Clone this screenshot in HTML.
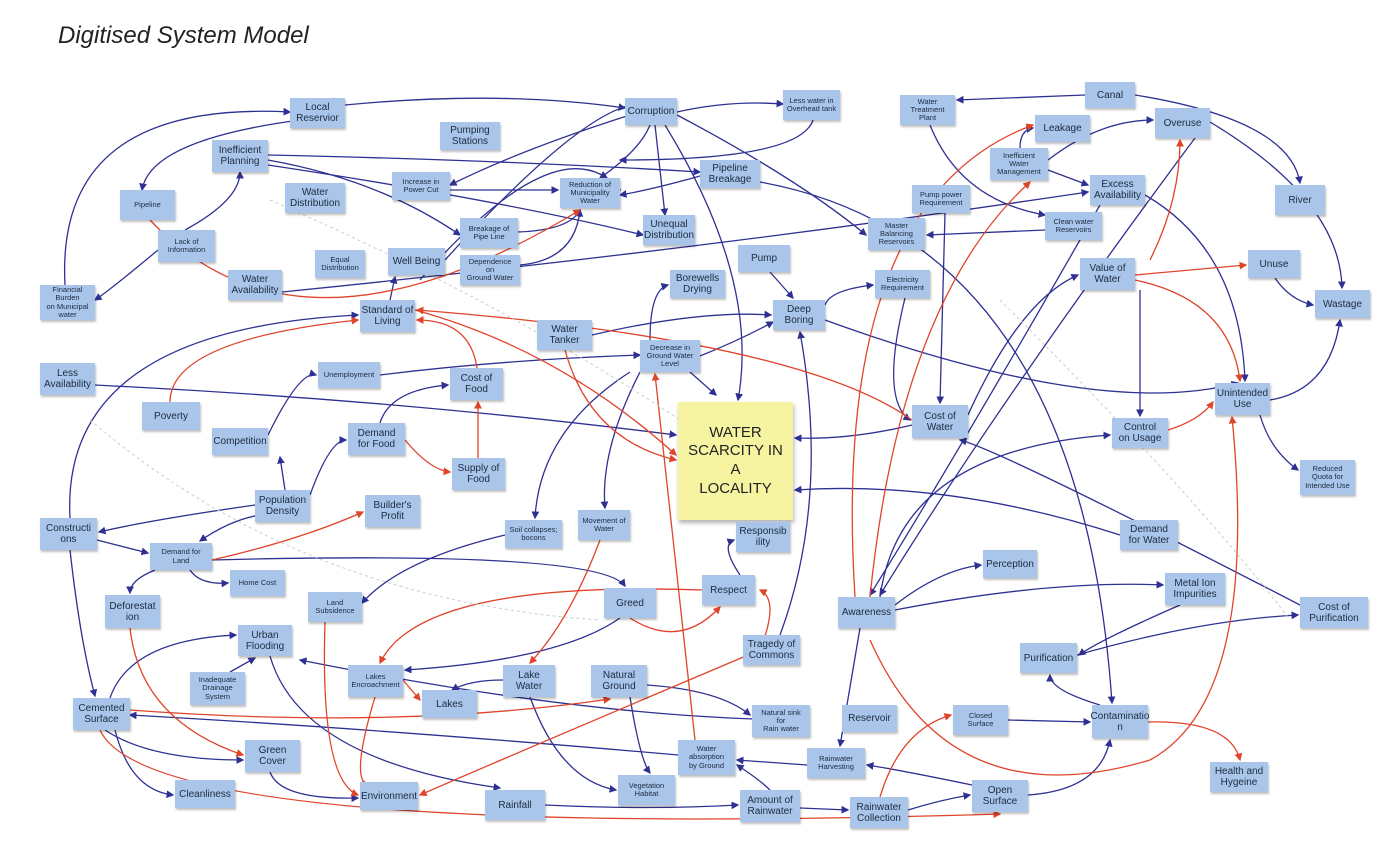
<!DOCTYPE html>
<html><head><meta charset="utf-8"><style>
body{margin:0;width:1400px;height:849px;background:#fff;position:relative;overflow:hidden;font-family:"Liberation Sans",sans-serif}
.n{position:absolute;background:#a9c6ea;display:flex;align-items:center;justify-content:center;text-align:center;font-size:10px;line-height:1.1;color:#1c2a40;box-shadow:1px 2px 2px rgba(0,0,0,.25);box-sizing:border-box;padding:1px}
.s{font-size:7.5px}
svg{position:absolute;left:0;top:0}
h1{position:absolute;left:58px;top:22px;margin:0;font-weight:normal;font-style:italic;font-size:24px;color:#222}
</style></head><body>
<h1>Digitised System Model</h1>
<svg width="1400" height="849" viewBox="0 0 1400 849">
<defs>
<marker id="b" markerWidth="6" markerHeight="6" refX="5" refY="3" orient="auto"><path d="M0,0 L6,3 L0,6z" fill="#2e3192"/></marker>
<marker id="r" markerWidth="6" markerHeight="6" refX="5" refY="3" orient="auto"><path d="M0,0 L6,3 L0,6z" fill="#e0442a"/></marker>
</defs>
<g fill="none" stroke="#2e3192" stroke-width="1.3" marker-end="url(#b)">
<path d="M650 125 Q640 150 600 178"/><path d="M655 125 Q660 170 665 215"/>
<path d="M630 115 Q520 150 450 185"/><path d="M665 125 Q760 280 738 400"/>
<path d="M677 112 Q730 100 783 104"/><path d="M813 120 Q800 160 620 160"/>
<path d="M300 120 Q150 140 142 190"/><path d="M345 105 Q500 90 625 108"/>
<path d="M268 155 Q500 160 700 172"/><path d="M268 160 Q380 180 460 235"/>
<path d="M268 165 Q500 200 643 235"/><path d="M185 230 Q240 200 240 172"/>
<path d="M158 250 Q110 290 95 300"/><path d="M65 285 Q55 100 290 112"/>
<path d="M700 176 Q650 190 620 195"/><path d="M450 190 L558 190"/>
<path d="M518 232 Q570 230 580 210"/><path d="M520 265 Q575 260 580 210"/>
<path d="M760 182 Q1080 240 1112 703"/><path d="M390 300 L395 277"/>
<path d="M282 292 Q700 250 1088 192"/><path d="M650 340 Q650 290 668 285"/>
<path d="M690 372 L716 395"/><path d="M592 335 Q700 310 771 315"/>
<path d="M700 356 Q740 340 773 322"/><path d="M825 305 Q830 290 873 285"/>
<path d="M770 272 L793 298"/><path d="M905 298 Q880 400 910 420"/>
<path d="M945 213 L940 403"/><path d="M968 415 Q1020 300 1078 275"/>
<path d="M1140 290 Q1140 350 1140 416"/><path d="M1145 195 Q1240 250 1245 381"/>
<path d="M1210 122 Q1340 200 1342 288"/><path d="M1085 95 L957 100"/>
<path d="M1135 95 Q1290 120 1300 183"/><path d="M1275 278 Q1290 300 1313 305"/>
<path d="M1270 400 Q1330 390 1340 320"/><path d="M1260 415 Q1270 450 1298 470"/>
<path d="M1048 170 L1088 185"/><path d="M1048 160 Q1100 120 1153 120"/>
<path d="M1020 148 Q1020 130 1033 128"/><path d="M1045 230 L927 235"/>
<path d="M930 125 Q960 200 1045 215"/><path d="M95 385 Q400 400 676 435"/>
<path d="M912 425 Q850 440 795 438"/><path d="M1120 535 Q950 480 795 490"/>
<path d="M1300 605 Q1000 450 960 440"/><path d="M895 605 Q940 570 981 565"/>
<path d="M895 610 Q1050 580 1163 585"/><path d="M860 628 L840 746"/>
<path d="M880 597 Q900 450 1110 435"/><path d="M1077 655 Q1200 620 1298 615"/>
<path d="M1180 605 Q1100 640 1079 655"/><path d="M1100 705 Q1050 690 1050 675"/>
<path d="M1008 720 L1090 722"/><path d="M1028 795 Q1100 790 1110 740"/>
<path d="M908 810 Q940 800 970 795"/><path d="M800 808 L848 810"/>
<path d="M545 805 Q650 810 738 805"/><path d="M770 790 Q760 780 737 765"/>
<path d="M807 765 L737 760"/><path d="M972 785 Q900 770 867 765"/>
<path d="M647 685 Q720 690 750 715"/><path d="M630 697 Q640 760 650 773"/>
<path d="M503 680 Q470 680 452 690"/><path d="M530 697 Q560 780 616 790"/>
<path d="M620 618 Q560 660 405 670"/><path d="M270 772 Q280 800 358 798"/>
<path d="M270 656 Q300 760 500 788"/><path d="M110 698 Q130 640 236 635"/>
<path d="M115 730 Q130 790 173 795"/><path d="M105 730 Q150 760 243 760"/>
<path d="M230 672 L255 658"/><path d="M70 550 Q80 640 95 696"/>
<path d="M97 540 L148 553"/><path d="M255 505 Q150 520 99 532"/>
<path d="M310 495 Q330 440 346 440"/><path d="M285 490 L280 457"/>
<path d="M260 515 Q230 520 200 541"/><path d="M155 570 Q130 580 130 593"/>
<path d="M190 570 Q200 585 228 583"/><path d="M212 560 Q600 550 625 586"/>
<path d="M268 435 Q300 370 316 375"/><path d="M380 423 Q390 390 448 385"/>
<path d="M505 535 Q400 560 362 603"/><path d="M630 372 Q540 430 535 518"/>
<path d="M640 372 Q600 450 605 508"/><path d="M740 575 Q720 545 734 540"/>
<path d="M780 635 Q830 500 800 332"/><path d="M70 518 Q60 330 358 315"/>
<path d="M677 115 Q800 180 866 235"/><path d="M1195 138 Q1000 400 880 595"/>
<path d="M1100 205 Q960 450 870 595"/><path d="M825 320 Q1100 420 1238 383"/>
<path d="M380 375 Q500 360 640 355"/><path d="M735 760 Q400 730 130 715"/>
<path d="M810 720 Q600 720 300 660"/><path d="M420 280 Q560 120 620 190"/>
<path d="M445 260 Q600 90 650 105"/>
</g>
<g fill="none" stroke="#e0442a" stroke-width="1.3" marker-end="url(#r)">
<path d="M170 402 Q170 340 358 320"/><path d="M477 368 Q470 320 417 320"/>
<path d="M405 440 Q430 470 450 472"/><path d="M478 458 L478 402"/>
<path d="M415 310 Q560 350 676 455"/><path d="M150 220 Q300 380 580 210"/>
<path d="M565 350 Q590 440 676 460"/><path d="M212 560 Q300 540 363 512"/>
<path d="M630 618 Q680 650 720 607"/><path d="M760 650 Q500 760 420 795"/>
<path d="M130 710 Q400 730 610 699"/><path d="M100 730 Q150 840 1000 814"/>
<path d="M130 628 Q140 720 243 755"/><path d="M325 622 Q320 780 358 795"/>
<path d="M403 680 L420 700"/><path d="M375 697 Q350 780 368 785"/>
<path d="M702 590 Q420 580 380 663"/><path d="M600 540 Q570 620 530 663"/>
<path d="M695 740 L655 374"/><path d="M855 597 Q830 200 1033 125"/>
<path d="M870 597 Q900 300 1030 182"/><path d="M870 640 Q950 820 1150 760 Q1260 700 1232 417"/>
<path d="M1150 260 Q1180 200 1180 140"/><path d="M1135 275 L1246 265"/>
<path d="M1135 280 Q1230 300 1240 381"/><path d="M1168 430 Q1200 420 1213 402"/>
<path d="M880 797 Q900 730 951 715"/><path d="M1148 722 Q1230 720 1240 760"/>
<path d="M912 420 Q800 340 417 310"/><path d="M760 650 Q780 600 760 590"/>
</g>
<g fill="none" stroke="#ccc" stroke-width="1" stroke-dasharray="3 3">
<path d="M270 200 Q500 300 680 420"/><path d="M90 420 Q300 600 600 620"/><path d="M1000 300 Q1200 500 1290 620"/>
</g>
</svg>
<div class="n" style="left:290px;top:98px;width:55px;height:30px">Local<br>Reservior</div>
<div class="n" style="left:625px;top:98px;width:52px;height:27px">Corruption</div>
<div class="n s" style="left:783px;top:90px;width:57px;height:30px">Less water in<br>Overhead tank</div>
<div class="n" style="left:1085px;top:82px;width:50px;height:26px">Canal</div>
<div class="n s" style="left:900px;top:95px;width:55px;height:30px">Water<br>Treatment<br>Plant</div>
<div class="n" style="left:1035px;top:115px;width:55px;height:27px">Leakage</div>
<div class="n" style="left:1155px;top:108px;width:55px;height:30px">Overuse</div>
<div class="n" style="left:440px;top:122px;width:60px;height:28px">Pumping<br>Stations</div>
<div class="n" style="left:212px;top:140px;width:56px;height:32px">Inefficient<br>Planning</div>
<div class="n" style="left:700px;top:160px;width:60px;height:28px">Pipeline<br>Breakage</div>
<div class="n s" style="left:392px;top:172px;width:58px;height:28px">Increase in<br>Power Cut</div>
<div class="n s" style="left:560px;top:178px;width:60px;height:30px">Reduction of<br>Municipality<br>Water</div>
<div class="n s" style="left:990px;top:148px;width:58px;height:32px">Inefficient<br>Water<br>Management</div>
<div class="n" style="left:1090px;top:175px;width:55px;height:30px">Excess<br>Availability</div>
<div class="n s" style="left:120px;top:190px;width:55px;height:30px">Pipeline</div>
<div class="n" style="left:285px;top:183px;width:60px;height:30px">Water<br>Distribution</div>
<div class="n s" style="left:912px;top:185px;width:58px;height:28px">Pump power<br>Requirement</div>
<div class="n" style="left:1275px;top:185px;width:50px;height:30px">River</div>
<div class="n s" style="left:158px;top:230px;width:57px;height:32px">Lack of<br>Information</div>
<div class="n s" style="left:460px;top:218px;width:58px;height:30px">Breakage of<br>Pipe Line</div>
<div class="n" style="left:643px;top:215px;width:52px;height:30px">Unequal<br>Distribution</div>
<div class="n s" style="left:1045px;top:212px;width:57px;height:28px">Clean water<br>Reservoirs</div>
<div class="n s" style="left:868px;top:218px;width:57px;height:32px">Master<br>Balancing<br>Reservoirs</div>
<div class="n s" style="left:315px;top:250px;width:50px;height:28px">Equal<br>Distribution</div>
<div class="n" style="left:388px;top:248px;width:57px;height:27px">Well Being</div>
<div class="n s" style="left:460px;top:255px;width:60px;height:30px">Dependence<br>on<br>Ground Water</div>
<div class="n" style="left:738px;top:245px;width:52px;height:27px">Pump</div>
<div class="n" style="left:670px;top:270px;width:55px;height:28px">Borewells<br>Drying</div>
<div class="n s" style="left:875px;top:270px;width:55px;height:28px">Electricity<br>Requirement</div>
<div class="n" style="left:1080px;top:258px;width:55px;height:32px">Value of<br>Water</div>
<div class="n" style="left:1248px;top:250px;width:52px;height:28px">Unuse</div>
<div class="n s" style="left:40px;top:285px;width:55px;height:35px">Financial Burden<br>on Municipal<br>water</div>
<div class="n" style="left:228px;top:270px;width:54px;height:30px">Water<br>Availability</div>
<div class="n" style="left:360px;top:300px;width:55px;height:32px">Standard of<br>Living</div>
<div class="n" style="left:773px;top:300px;width:52px;height:30px">Deep<br>Boring</div>
<div class="n" style="left:1315px;top:290px;width:55px;height:28px">Wastage</div>
<div class="n" style="left:537px;top:320px;width:55px;height:30px">Water<br>Tanker</div>
<div class="n s" style="left:640px;top:340px;width:60px;height:32px">Decrease in<br>Ground Water<br>Level</div>
<div class="n" style="left:40px;top:363px;width:55px;height:32px">Less<br>Availability</div>
<div class="n s" style="left:318px;top:362px;width:62px;height:26px">Unemployment</div>
<div class="n" style="left:450px;top:368px;width:53px;height:32px">Cost of<br>Food</div>
<div class="n" style="left:142px;top:402px;width:58px;height:28px">Poverty</div>
<div class="n" style="left:678px;top:402px;width:115px;height:118px;background:#f6f4a0;font-size:15px;line-height:1.25;color:#222;box-shadow:1px 3px 4px rgba(0,0,0,.3)">WATER<br>SCARCITY IN<br>A<br>LOCALITY</div>
<div class="n" style="left:912px;top:405px;width:56px;height:33px">Cost of<br>Water</div>
<div class="n" style="left:1215px;top:383px;width:55px;height:32px">Unintended<br>Use</div>
<div class="n" style="left:1112px;top:418px;width:56px;height:30px">Control<br>on Usage</div>
<div class="n" style="left:212px;top:428px;width:56px;height:27px">Competition</div>
<div class="n" style="left:348px;top:423px;width:57px;height:32px">Demand<br>for Food</div>
<div class="n" style="left:452px;top:458px;width:53px;height:32px">Supply of<br>Food</div>
<div class="n s" style="left:1300px;top:460px;width:55px;height:35px">Reduced<br>Quota for<br>Intended Use</div>
<div class="n" style="left:255px;top:490px;width:55px;height:32px">Population<br>Density</div>
<div class="n" style="left:365px;top:495px;width:55px;height:32px">Builder's<br>Profit</div>
<div class="n" style="left:40px;top:518px;width:57px;height:32px">Constructi<br>ons</div>
<div class="n s" style="left:505px;top:520px;width:57px;height:28px">Soil collapses;<br>bocons</div>
<div class="n s" style="left:578px;top:510px;width:52px;height:30px">Movement of<br>Water</div>
<div class="n" style="left:736px;top:522px;width:54px;height:30px">Responsib<br>ility</div>
<div class="n" style="left:1120px;top:520px;width:58px;height:30px">Demand<br>for Water</div>
<div class="n s" style="left:150px;top:543px;width:62px;height:27px">Demand for<br>Land</div>
<div class="n s" style="left:230px;top:570px;width:55px;height:26px">Home Cost</div>
<div class="n" style="left:983px;top:550px;width:54px;height:28px">Perception</div>
<div class="n" style="left:702px;top:575px;width:53px;height:30px">Respect</div>
<div class="n" style="left:1165px;top:573px;width:60px;height:32px">Metal Ion<br>Impurities</div>
<div class="n" style="left:105px;top:595px;width:55px;height:33px">Deforestat<br>ion</div>
<div class="n s" style="left:308px;top:592px;width:54px;height:30px">Land<br>Subsidence</div>
<div class="n" style="left:604px;top:588px;width:52px;height:30px">Greed</div>
<div class="n" style="left:838px;top:597px;width:57px;height:31px">Awareness</div>
<div class="n" style="left:1300px;top:597px;width:68px;height:31px">Cost of<br>Purification</div>
<div class="n" style="left:238px;top:625px;width:54px;height:31px">Urban<br>Flooding</div>
<div class="n" style="left:743px;top:635px;width:57px;height:30px">Tragedy of<br>Commons</div>
<div class="n" style="left:1020px;top:643px;width:57px;height:30px">Purification</div>
<div class="n s" style="left:348px;top:665px;width:55px;height:32px">Lakes<br>Encroachment</div>
<div class="n" style="left:503px;top:665px;width:52px;height:32px">Lake<br>Water</div>
<div class="n" style="left:591px;top:665px;width:56px;height:32px">Natural<br>Ground</div>
<div class="n s" style="left:190px;top:672px;width:55px;height:33px">Inadequate<br>Drainage<br>System</div>
<div class="n" style="left:422px;top:690px;width:55px;height:28px">Lakes</div>
<div class="n" style="left:73px;top:698px;width:57px;height:32px">Cemented<br>Surface</div>
<div class="n" style="left:842px;top:705px;width:55px;height:27px">Reservoir</div>
<div class="n s" style="left:752px;top:705px;width:58px;height:32px">Natural sink<br>for<br>Rain water</div>
<div class="n s" style="left:953px;top:705px;width:55px;height:30px">Closed<br>Surface</div>
<div class="n" style="left:1092px;top:705px;width:56px;height:33px">Contaminatio<br>n</div>
<div class="n" style="left:245px;top:740px;width:55px;height:32px">Green<br>Cover</div>
<div class="n s" style="left:678px;top:740px;width:57px;height:35px">Water<br>absorption<br>by Ground</div>
<div class="n s" style="left:807px;top:748px;width:58px;height:30px">Rainwater<br>Harvesting</div>
<div class="n" style="left:1210px;top:762px;width:58px;height:30px">Health and<br>Hygeine</div>
<div class="n" style="left:175px;top:780px;width:60px;height:28px">Cleanliness</div>
<div class="n" style="left:360px;top:782px;width:58px;height:28px">Environment</div>
<div class="n s" style="left:618px;top:775px;width:57px;height:30px">Vegetation<br>Habitat</div>
<div class="n" style="left:972px;top:780px;width:56px;height:32px">Open<br>Surface</div>
<div class="n" style="left:485px;top:790px;width:60px;height:30px">Rainfall</div>
<div class="n" style="left:740px;top:790px;width:60px;height:32px">Amount of<br>Rainwater</div>
<div class="n" style="left:850px;top:797px;width:58px;height:31px">Rainwater<br>Collection</div>
</body></html>
